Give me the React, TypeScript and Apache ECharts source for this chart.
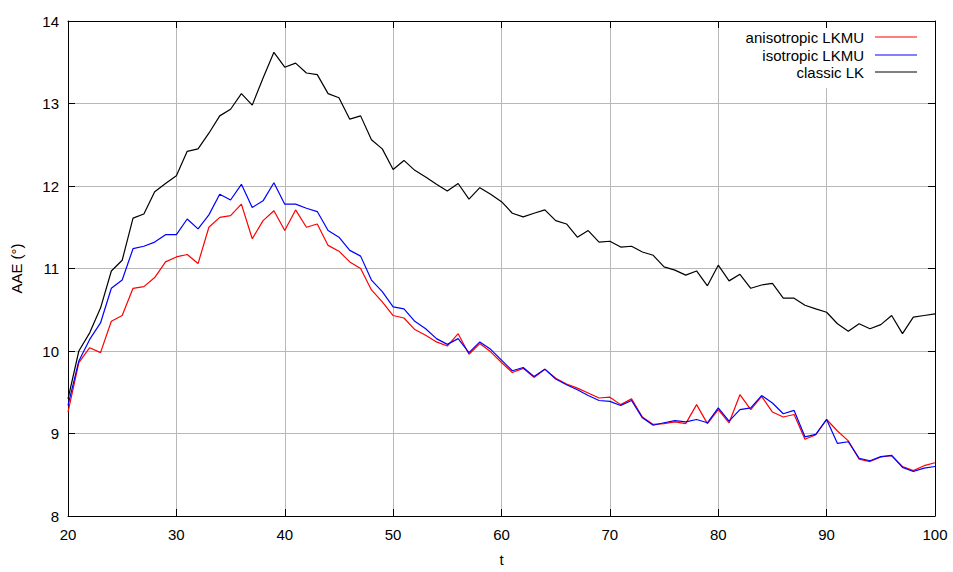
import React, { useEffect, useRef } from "react";
import * as echarts from "echarts";

const tValues: number[] = [];
for (let t = 20; t <= 100; t++) tValues.push(t);

const anisotropic = [
  9.26, 9.86, 10.04, 9.98, 10.36, 10.43, 10.76, 10.78, 10.89, 11.08,
  11.14, 11.17, 11.06, 11.50, 11.62, 11.64, 11.78, 11.36, 11.58, 11.70,
  11.46, 11.71, 11.50, 11.54, 11.28, 11.21, 11.08, 11.00, 10.74, 10.595,
  10.43, 10.40, 10.26, 10.19, 10.11, 10.06, 10.21, 9.96, 10.09, 9.99,
  9.86, 9.74, 9.79, 9.68, 9.78, 9.67, 9.60, 9.55, 9.49, 9.43,
  9.44, 9.35, 9.42, 9.20, 9.11, 9.12, 9.14, 9.12, 9.35, 9.12,
  9.29, 9.13, 9.47, 9.29, 9.45, 9.26, 9.20, 9.23, 8.93, 8.985,
  9.17, 9.03, 8.91, 8.69, 8.66, 8.715, 8.73, 8.60, 8.55, 8.61,
  8.645,
];

const isotropic = [
  9.34, 9.88, 10.14, 10.34, 10.76, 10.86, 11.24, 11.27, 11.32, 11.41,
  11.41, 11.60, 11.48, 11.65, 11.90, 11.83, 12.02, 11.74, 11.82, 12.04,
  11.78, 11.78, 11.73, 11.69, 11.46, 11.38, 11.22, 11.15, 10.86, 10.72,
  10.535, 10.51, 10.36, 10.27, 10.15, 10.08, 10.15, 9.98, 10.11, 10.02,
  9.89, 9.76, 9.80, 9.69, 9.78, 9.66, 9.59, 9.53, 9.46, 9.40,
  9.39, 9.34, 9.40, 9.19, 9.10, 9.13, 9.155, 9.14, 9.17, 9.13,
  9.31, 9.15, 9.29, 9.31, 9.46, 9.37, 9.24, 9.28, 8.96, 8.99,
  9.17, 8.88, 8.90, 8.70, 8.67, 8.72, 8.735, 8.59, 8.54, 8.58,
  8.60,
];

const classicLK = [
  9.42, 10.00, 10.22, 10.52, 10.97, 11.10, 11.61, 11.66, 11.93, 12.03,
  12.125, 12.42, 12.45, 12.64, 12.85, 12.93, 13.12, 12.98, 13.31, 13.62,
  13.44, 13.49, 13.37, 13.35, 13.12, 13.07, 12.81, 12.85, 12.56, 12.45,
  12.20, 12.31, 12.19, 12.11, 12.02, 11.94, 12.03, 11.84, 11.98, 11.90,
  11.81, 11.67, 11.625, 11.67, 11.71, 11.58, 11.54, 11.38, 11.46, 11.32,
  11.33, 11.26, 11.27, 11.20, 11.16, 11.02, 10.98, 10.92, 10.97, 10.79,
  11.04, 10.85, 10.93, 10.76, 10.80, 10.82, 10.64, 10.64, 10.555, 10.51,
  10.47, 10.33, 10.24, 10.33, 10.27, 10.32, 10.43, 10.21, 10.41, 10.43,
  10.45,
];

const seriesNames = ["anisotropic LKMU", "isotropic LKMU", "classic LK"];
const seriesColors = ["#ff0000", "#0000ff", "#000000"];
const seriesValues = [anisotropic, isotropic, classicLK];

const FONT = "'Liberation Sans', Arial, Helvetica, sans-serif";

export default function App() {
  const ref = useRef<HTMLDivElement>(null);
  useEffect(() => {
    if (!ref.current) return;
    const chart = echarts.init(ref.current, null, { renderer: "svg" });
    const tick = { show: true, inside: true, length: 7, lineStyle: { color: "#000", width: 1 } };
    const axisLine = { show: true, lineStyle: { color: "#000", width: 1 } };
    const grid = { show: true, lineStyle: { color: "#b8b8b8", width: 1 } };

    // key (legend) drawn as graphic: text right-aligned, sample line to its right
    const keyRowY = [37, 55, 72];
    const keyChildren: any[] = [
      {
        type: "rect",
        z: 5,
        shape: { x: 728, y: 22, width: 206, height: 66 },
        style: { fill: "#ffffff", stroke: "none" },
      },
    ];
    seriesNames.forEach((name, i) => {
      keyChildren.push({
        type: "text",
        z: 6,
        x: 864,
        y: keyRowY[i],
        style: {
          text: name,
          align: "right",
          verticalAlign: "middle",
          fontFamily: FONT,
          fontSize: 15,
          fill: "#000",
        },
      });
      keyChildren.push({
        type: "line",
        z: 6,
        shape: { x1: 875, y1: keyRowY[i], x2: 917, y2: keyRowY[i] },
        style: { stroke: seriesColors[i], lineWidth: 1.2 },
      });
    });

    chart.setOption({
      animation: false,
      backgroundColor: "#fff",
      textStyle: { fontFamily: FONT },
      grid: { left: 68, right: 18, top: 21, bottom: 52, containLabel: false },
      graphic: keyChildren,
      xAxis: [
        {
          type: "value",
          min: 20,
          max: 100,
          interval: 10,
          name: "t",
          nameLocation: "middle",
          nameGap: 36,
          nameTextStyle: { fontFamily: FONT, fontSize: 15, color: "#000" },
          axisLine,
          axisTick: tick,
          axisLabel: { fontFamily: FONT, fontSize: 15, color: "#000", margin: 11 },
          splitLine: grid,
        },
        {
          type: "value",
          position: "top",
          min: 20,
          max: 100,
          interval: 10,
          z: 10,
          axisLine,
          axisTick: tick,
          axisLabel: { show: false },
          splitLine: { show: false },
        },
      ],
      yAxis: [
        {
          type: "value",
          min: 8,
          max: 14,
          interval: 1,
          name: "AAE (°)",
          nameLocation: "middle",
          nameGap: 44,
          nameTextStyle: { fontFamily: FONT, fontSize: 15, color: "#000" },
          axisLine,
          axisTick: tick,
          axisLabel: { fontFamily: FONT, fontSize: 15, color: "#000", margin: 9 },
          splitLine: grid,
        },
        {
          type: "value",
          position: "right",
          min: 8,
          max: 14,
          interval: 1,
          z: 10,
          axisLine,
          axisTick: tick,
          axisLabel: { show: false },
          splitLine: { show: false },
        },
      ],
      series: seriesNames.map((name, i) => ({
        name,
        type: "line",
        xAxisIndex: 0,
        yAxisIndex: 0,
        symbol: "none",
        showSymbol: false,
        color: seriesColors[i],
        lineStyle: { color: seriesColors[i], width: 1.2 },
        data: tValues.map((t, k) => [t, seriesValues[i][k]]),
      })),
    });
    return () => chart.dispose();
  }, []);
  return (
    <div
      ref={ref}
      style={{ position: "absolute", left: 0, top: 0, width: 953, height: 572 }}
    />
  );
}
